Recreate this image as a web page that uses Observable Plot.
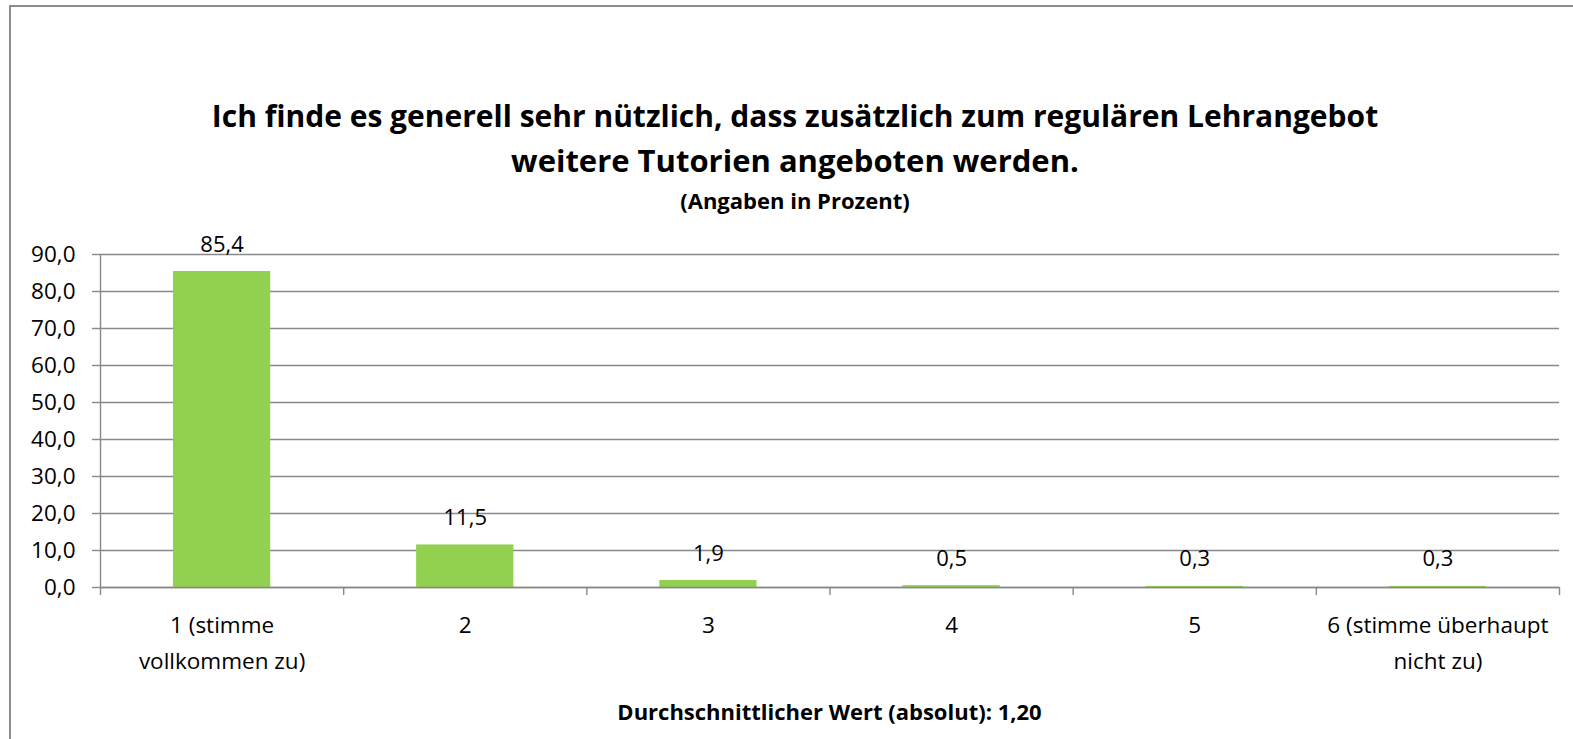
<!DOCTYPE html>
<html>
<head>
<meta charset="utf-8">
<script src="https://cdn.jsdelivr.net/npm/d3@7"></script>
<script src="https://cdn.jsdelivr.net/npm/@observablehq/plot@0.6"></script>
<style>
  html, body { margin: 0; padding: 0; background: #fff; }
  body { width: 1573px; height: 739px; overflow: hidden; position: relative; font-family: "Open Sans", Lato, sans-serif; color: #000; }
  #frame { position: absolute; left: 9px; top: 5px; width: 1600px; height: 800px; border: 2px solid #8c8c8c; box-sizing: border-box; }
  .t { position: absolute; left: 10px; width: 1570px; text-align: center; font-weight: bold; white-space: nowrap; line-height: 1.2; }
  #chart { position: absolute; left: 0; top: 230px; }
</style>
</head>
<body>
<div id="frame"></div>
<div class="t" id="title1"></div>
<div class="t" id="title2"></div>
<div class="t" id="subtitle"></div>
<div id="chart"></div>
<div class="t" id="caption"></div>
<script>
// ---- data ----
const titleLines = ["Ich finde es generell sehr nützlich, dass zusätzlich zum regulären Lehrangebot", "weitere Tutorien angeboten werden."];
const subtitle = "(Angaben in Prozent)";
const caption = "Durchschnittlicher Wert (absolut): 1,20";
const categories = ["1 (stimme\nvollkommen zu)", "2", "3", "4", "5", "6 (stimme überhaupt\nnicht zu)"];
const values = [85.4, 11.5, 1.9, 0.5, 0.3, 0.3];
const valueLabels = ["85,4", "11,5", "1,9", "0,5", "0,3", "0,3"];
const yTicks = [0, 10, 20, 30, 40, 50, 60, 70, 80, 90];
const yTickLabels = ["0,0", "10,0", "20,0", "30,0", "40,0", "50,0", "60,0", "70,0", "80,0", "90,0"];

// ---- text ----
const t1 = document.getElementById("title1");
t1.textContent = titleLines[0];
t1.style.cssText = "top:98px;font-size:30px;";
const t2 = document.getElementById("title2");
t2.textContent = titleLines[1];
t2.style.cssText = "top:142px;font-size:31px;";
const st = document.getElementById("subtitle");
st.textContent = subtitle;
st.style.cssText = "top:187px;font-size:22px;";
const cp = document.getElementById("caption");
cp.textContent = caption;
cp.style.cssText = "top:698px;left:100px;width:1459px;font-size:22px;";

// ---- chart ----
const data = categories.map((c, i) => ({pos: i + 1, cat: c, value: values[i], label: valueLabels[i]}));
const boundaries = [0.5].concat(data.map(d => d.pos + 0.5));
const gray = "#898989";

const plot = Plot.plot({
  width: 1573,
  height: 509,
  marginTop: 24,
  marginBottom: 152,
  marginLeft: 100,
  marginRight: 14,
  style: {fontFamily: "'Open Sans', Lato, sans-serif", color: "#000", background: "transparent", overflow: "visible"},
  x: {type: "linear", domain: [0.5, 6.5], axis: null},
  y: {domain: [0, 90], axis: null},
  marks: [
    Plot.gridY(yTicks, {stroke: gray, strokeOpacity: 1, strokeWidth: 1.4}),
    Plot.axisY({ticks: yTicks, tickSize: 8, tickPadding: 17, fontSize: 22.5, stroke: gray, strokeWidth: 1.4,
      tickFormat: d => yTickLabels[yTicks.indexOf(d)], label: null}),
    Plot.rectY(data, {x1: d => d.pos - 0.2, x2: d => d.pos + 0.2, y: "value", fill: "#92D050"}),
    Plot.ruleX([0.5], {y1: 0, y2: 90, stroke: gray, strokeWidth: 1.4}),
    Plot.ruleY([0], {stroke: gray, strokeWidth: 1.4}),
    Plot.axisX({ticks: boundaries, tickSize: 8, tickFormat: () => "", stroke: gray, strokeWidth: 1.4, label: null}),
    Plot.text(data, {x: "pos", y: "value", text: "label", dy: -27, lineAnchor: "middle", fontSize: 22, fill: "#000"}),
    Plot.text(data, {x: "pos", text: "cat", frameAnchor: "bottom", lineAnchor: "top", dy: 20, lineHeight: 1.6, fontSize: 22.5, fill: "#000"})
  ]
});
document.getElementById("chart").appendChild(plot);
</script>
</body>
</html>
